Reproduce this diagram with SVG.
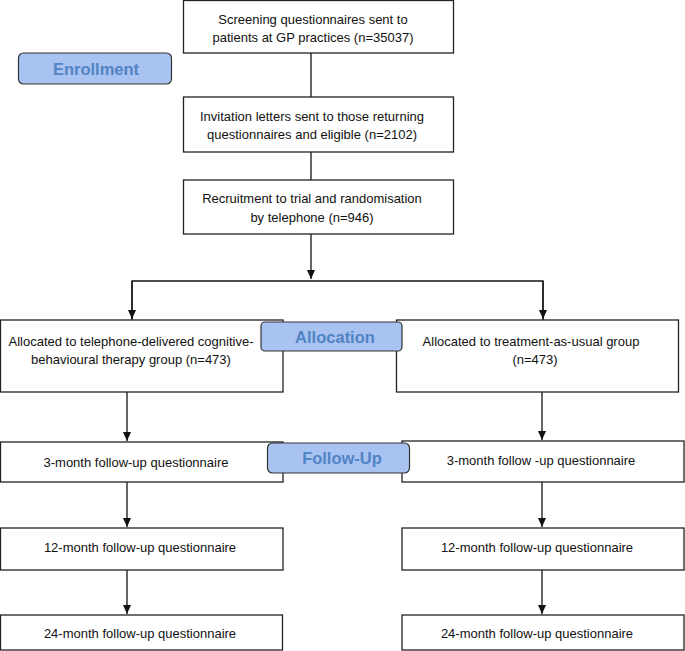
<svg xmlns="http://www.w3.org/2000/svg" width="685" height="651" viewBox="0 0 685 651">
<defs>
<marker id="arr" markerWidth="10" markerHeight="8" refX="9" refY="4" orient="auto" markerUnits="userSpaceOnUse">
<path d="M0,0 L9,4 L0,8 Z" fill="#111"/>
</marker>
<style>
.box{fill:#fff;stroke:#222;stroke-width:1.3}
.t{font-family:"Liberation Sans",Arial,sans-serif;font-size:13px;fill:#111;text-anchor:middle}
.lab{fill:#a8c3f2;stroke:#333;stroke-width:1.2}
.lt{font-family:"Liberation Sans",Arial,sans-serif;font-size:16.5px;font-weight:bold;fill:#5283c2;text-anchor:middle}
.c{fill:none;stroke:#111;stroke-width:1.3}
</style>
</defs>
<rect width="685" height="651" fill="#fff"/>
<g id="connectors">
<path class="c" d="M311,53 V97"/>
<path class="c" d="M311,152 V180"/>
<path class="c" d="M311,234 V279" marker-end="url(#arr)"/>
<path class="c" d="M132,320 V281 H543 V320"/>
<path class="c" d="M132,281 V319" marker-end="url(#arr)"/>
<path class="c" d="M543,281 V319" marker-end="url(#arr)"/>
<path class="c" d="M127,392 V441" marker-end="url(#arr)"/>
<path class="c" d="M542,392 V440" marker-end="url(#arr)"/>
<path class="c" d="M127,482 V527" marker-end="url(#arr)"/>
<path class="c" d="M542,482 V527" marker-end="url(#arr)"/>
<path class="c" d="M127,570 V614" marker-end="url(#arr)"/>
<path class="c" d="M542,570 V614" marker-end="url(#arr)"/>
</g>
<g id="screening">
<rect class="box" x="183.5" y="0.5" width="270" height="52.5"/>
<text class="t" x="313" y="23.5">Screening questionnaires sent to</text>
<text class="t" x="313" y="41.5">patients at GP practices (n=35037)</text>
</g>
<g id="invitation">
<rect class="box" x="183.5" y="97" width="270" height="55"/>
<text class="t" x="312" y="120.5">Invitation letters sent to those returning</text>
<text class="t" x="312" y="138.5">questionnaires and eligible (n=2102)</text>
</g>
<g id="recruitment">
<rect class="box" x="183.5" y="180" width="270" height="54"/>
<text class="t" x="312" y="202.5">Recruitment to trial and randomisation</text>
<text class="t" x="312" y="221.5">by telephone (n=946)</text>
</g>
<g id="alloc-cbt">
<rect class="box" x="0.5" y="320" width="282.5" height="72"/>
<text class="t" x="131" y="345.5">Allocated to telephone-delivered cognitive-</text>
<text class="t" x="131" y="363.5">behavioural therapy group (n=473)</text>
</g>
<g id="alloc-tau">
<rect class="box" x="396.5" y="320" width="282" height="72"/>
<text class="t" x="531" y="345.5">Allocated to treatment-as-usual group</text>
<text class="t" x="535" y="363.5">(n=473)</text>
</g>
<g id="fu3-cbt">
<rect class="box" x="0.5" y="442" width="282.5" height="40"/>
<text class="t" x="136" y="466.5">3-month follow-up questionnaire</text>
</g>
<g id="fu3-tau">
<rect class="box" x="402" y="441" width="282" height="41"/>
<text class="t" x="541" y="464.5">3-month follow -up questionnaire</text>
</g>
<g id="fu12-cbt">
<rect class="box" x="0.5" y="528" width="282.5" height="42"/>
<text class="t" x="140" y="551.5">12-month follow-up questionnaire</text>
</g>
<g id="fu12-tau">
<rect class="box" x="402" y="528" width="282" height="42"/>
<text class="t" x="537" y="551.5">12-month follow-up questionnaire</text>
</g>
<g id="fu24-cbt">
<rect class="box" x="0.5" y="615" width="282" height="35"/>
<text class="t" x="140" y="637.5">24-month follow-up questionnaire</text>
</g>
<g id="fu24-tau">
<rect class="box" x="402" y="615" width="282" height="35"/>
<text class="t" x="537" y="637.5">24-month follow-up questionnaire</text>
</g>
<g id="label-enrollment">
<rect class="lab" x="18.5" y="53" width="153" height="31" rx="5"/>
<text class="lt" x="96" y="75">Enrollment</text>
</g>
<g id="label-allocation">
<rect class="lab" x="261" y="322" width="141" height="29" rx="4"/>
<text class="lt" x="335" y="343">Allocation</text>
</g>
<g id="label-followup">
<rect class="lab" x="267.5" y="443" width="142" height="30" rx="5"/>
<text class="lt" x="342" y="464">Follow-Up</text>
</g>
</svg>
